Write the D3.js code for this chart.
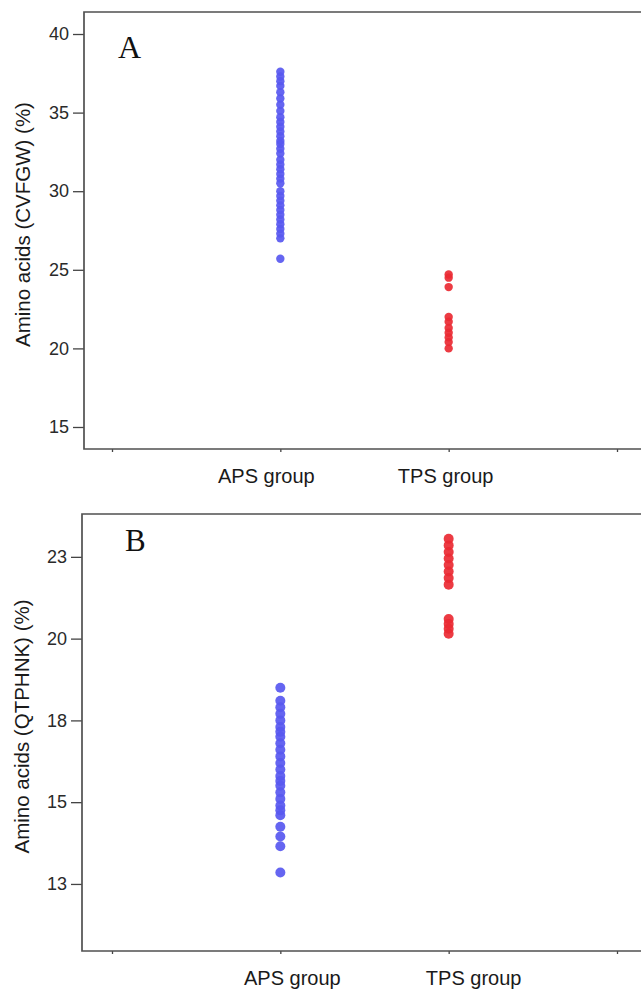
<!DOCTYPE html>
<html>
<head>
<meta charset="utf-8">
<script src="https://cdn.jsdelivr.net/npm/d3@7"></script>
<style>
  body { margin: 0; background: #fff; }
  svg { display: block; }
</style>
</head>
<body>
<div id="chart"></div>
<script>
// groups on the x axis (blank slots at both ends carry the outer ticks)
const groups = ['APS group', 'TPS group'];
const xSlots = ['', 'APS group', 'TPS group', ' '];

// panel A : CVFGW content (%)
const cvfgwAPS = [37.6, 37.3, 37.0, 36.7, 36.3, 35.9, 35.5, 35.1,
  34.7, 34.4, 34.1, 33.8, 33.5, 33.2,
  33.0, 32.7, 32.4, 32.0, 31.7, 31.4, 31.1, 30.8, 30.5,
  30.0, 29.7, 29.4, 29.1, 28.8, 28.5, 28.2, 27.9, 27.6, 27.3, 27.0,
  25.7];
const cvfgwTPS = [24.7, 24.5, 23.9, 22.0, 21.7, 21.3, 21.0, 20.7, 20.4, 20.0];
const cvfgwTicks = [15, 20, 25, 30, 35, 40];

// panel B : QTPHNK content (%)
const qtphnkAPS = [18.5, 18.1, 17.9, 17.7, 17.5, 17.3, 17.15,
  17.0, 16.8, 16.6, 16.4, 16.2, 16.0, 15.8, 15.65, 15.5,
  15.3, 15.1, 14.9, 14.75, 14.6,
  14.25, 13.95, 13.65, 12.85];
const qtphnkTPS = [23.05, 22.85, 22.65, 22.45, 22.25, 22.05, 21.85, 21.65,
  20.6, 20.45, 20.3, 20.15];
const qtphnkTicks = [12.5, 15, 17.5, 20, 22.5];
const qtphnkTickLabels = ['13', '15', '18', '20', '23'];

const W = 641, H = 990;
const colors = { 'APS group': '#5858f0', 'TPS group': '#ea2a33' };

const svg = d3.select('#chart').append('svg')
  .attr('width', W)
  .attr('height', H);

const panels = [
  {
    letter: 'A', title: 'Amino acids (CVFGW) (%)',
    aps: cvfgwAPS, tps: cvfgwTPS,
    ticks: cvfgwTicks, tickLabels: cvfgwTicks.map(String),
    domain: [13.6, 41.4], top: 12, bottom: 449, left: 84,
    r: 4.2, titleX: 30, letterX: 118, letterY: 58, letterSize: 32,
    labelY: 483, labelShift: { 'APS group': -14, 'TPS group': -3 }
  },
  {
    letter: 'B', title: 'Amino acids (QTPHNK) (%)',
    aps: qtphnkAPS, tps: qtphnkTPS,
    ticks: qtphnkTicks, tickLabels: qtphnkTickLabels,
    domain: [10.45, 23.81], top: 514, bottom: 951, left: 82,
    r: 5, titleX: 29, letterX: 125, letterY: 551, letterSize: 31,
    labelY: 985, labelShift: { 'APS group': 12, 'TPS group': 25 }
  }
];

panels.forEach(p => {
  const g = svg.append('g');

  const y = d3.scaleLinear().domain(p.domain).range([p.bottom, p.top]);
  const x = d3.scalePoint().domain(xSlots).range([112, 617]);

  // dots
  const pts = p.aps.map(v => ({ group: 'APS group', v }))
    .concat(p.tps.map(v => ({ group: 'TPS group', v })));

  g.selectAll('circle')
    .data(pts)
    .enter().append('circle')
    .attr('cx', d => x(d.group))
    .attr('cy', d => y(d.v))
    .attr('r', p.r)
    .attr('fill', d => colors[d.group])
    .attr('fill-opacity', 0.92);

  // y axis
  const yAxis = d3.axisLeft(y)
    .tickValues(p.ticks)
    .tickFormat((d, i) => p.tickLabels[i])
    .tickSize(11)
    .tickPadding(4);

  const ya = g.append('g')
    .attr('transform', `translate(${p.left},0)`)
    .call(yAxis);
  ya.select('.domain').remove();
  ya.selectAll('line').attr('stroke', '#444').attr('stroke-width', 1.3);
  ya.selectAll('text')
    .style('font-family', 'Arial, "Liberation Sans", sans-serif')
    .style('font-size', '18px')
    .attr('fill', '#2a2a2a');

  // x axis ticks only
  const xAxis = d3.axisBottom(x).tickFormat('').tickSize(3);
  const xa = g.append('g')
    .attr('transform', `translate(0,${p.bottom})`)
    .call(xAxis);
  xa.select('.domain').remove();
  xa.selectAll('line').attr('stroke', '#444').attr('stroke-width', 1.3);

  // frame (right side runs off the page)
  g.append('path')
    .attr('d', `M${W + 10},${p.top}H${p.left}V${p.bottom}H${W + 10}`)
    .attr('fill', 'none')
    .attr('stroke', '#505050')
    .attr('stroke-width', 1.7);

  // group labels
  g.selectAll('.glabel')
    .data(groups)
    .enter().append('text')
    .attr('class', 'glabel')
    .attr('x', d => x(d) + p.labelShift[d])
    .attr('y', p.labelY)
    .attr('text-anchor', 'middle')
    .style('font-family', 'Arial, "Liberation Sans", sans-serif')
    .style('font-size', '20px')
    .attr('fill', '#1a1a1a')
    .text(d => d);

  // y title
  g.append('text')
    .attr('transform', `translate(${p.titleX},${(p.top + p.bottom) / 2 - 6}) rotate(-90)`)
    .attr('text-anchor', 'middle')
    .style('font-family', 'Arial, "Liberation Sans", sans-serif')
    .style('font-size', '20.5px')
    .attr('fill', '#1a1a1a')
    .text(p.title);

  // panel letter
  g.append('text')
    .attr('x', p.letterX)
    .attr('y', p.letterY)
    .style('font-family', '"Liberation Serif", "Times New Roman", serif')
    .style('font-size', p.letterSize + 'px')
    .attr('fill', '#111')
    .text(p.letter);
});
</script>
</body>
</html>
